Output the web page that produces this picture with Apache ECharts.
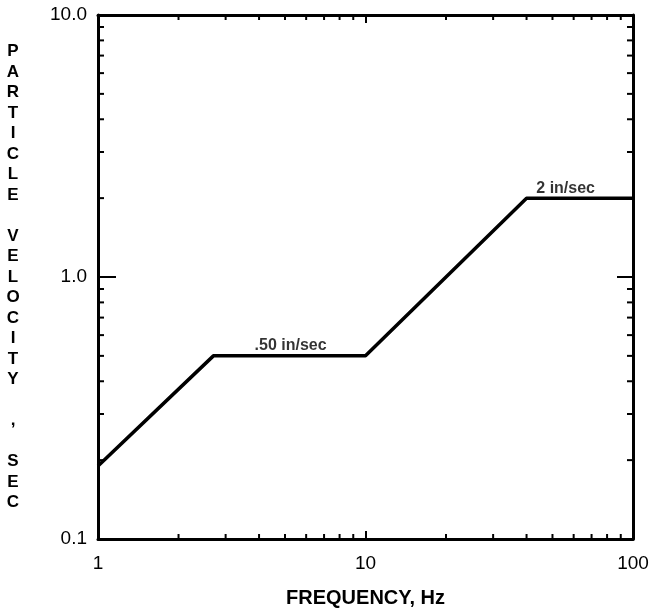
<!DOCTYPE html>
<html>
<head>
<meta charset="utf-8">
<script src="https://cdn.jsdelivr.net/npm/echarts@6/dist/echarts.min.js"></script>
<style>
html, body { margin: 0; padding: 0; background: #fff; }
#main { width: 654px; height: 613px; }
</style>
</head>
<body>
<div id="main"></div>
<script>
// criterion curve, frequency (Hz) vs particle velocity
var freq = [1, 2.7, 10, 40, 100]
var velocity = [0.19, 0.5, 0.5, 2, 2]

var curveLabels = [
  [5.25, 0.5, '.50 in/sec'],
  [56, 2, '2 in/sec']
]

var xMinor = [2, 3, 4, 5, 6, 7, 8, 9, 20, 30, 40, 50, 60, 70, 80, 90]
var yMinor = [0.2, 0.3, 0.4, 0.5, 0.6, 0.7, 0.8, 0.9, 2, 3, 4, 5, 6, 7, 8, 9]

var yTitle = 'PARTICLE VELOCITY , SEC'

var font = 'Liberation Sans, Arial, Helvetica, sans-serif'

var chart = echarts.init(document.getElementById('main'), null, { renderer: 'canvas' })

function axisBase(extra) {
  var a = {
    type: 'log',
    logBase: 10,
    axisLine: { show: true, lineStyle: { color: '#000', width: 3 } },
    axisTick: { show: true, inside: true, length: 8, lineStyle: { color: '#000', width: 2 } },
    splitLine: { show: false },
    minorTick: { show: false }
  }
  for (var k in extra) a[k] = extra[k]
  return a
}

function tickSeg(x1, y1, x2, y2) {
  return { type: 'line', shape: { x1: x1, y1: y1, x2: x2, y2: y2 }, style: { stroke: '#000', lineWidth: 2 } }
}

var option = {
  animation: false,
  backgroundColor: '#fff',
  grid: { left: 98, right: 21, top: 15, bottom: 70, containLabel: false },
  xAxis: [
    axisBase({
      position: 'bottom', min: 1, max: 100,
      axisLabel: { margin: 15, color: '#000', fontSize: 19, fontFamily: font,
        formatter: function (v) { return String(Math.round(v)) } },
      name: 'FREQUENCY, Hz', nameLocation: 'middle', nameGap: 49,
      nameTextStyle: { color: '#000', fontSize: 20, fontWeight: 'bold', fontFamily: font }
    }),
    axisBase({ position: 'top', min: 1, max: 100, axisLabel: { show: false } })
  ],
  yAxis: [
    axisBase({
      position: 'left', min: 0.1, max: 10,
      axisTick: { show: true, inside: true, length: 18, lineStyle: { color: '#000', width: 2 } },
      axisLabel: { margin: 11, color: '#000', fontSize: 19, fontFamily: font,
        formatter: function (v) { return v.toFixed(1) } },
      name: yTitle.split('').join('\n'), nameLocation: 'middle', nameRotate: 0, nameGap: 85,
      nameTextStyle: { color: '#000', fontSize: 17, fontWeight: 'bold', fontFamily: font,
        lineHeight: 20.5, align: 'center', padding: [16, 0, 0, 0] }
    }),
    axisBase({
      position: 'right', min: 0.1, max: 10,
      axisTick: { show: true, inside: true, length: 16, lineStyle: { color: '#000', width: 2 } },
      axisLabel: { show: false }
    })
  ],
  series: [
    {
      type: 'line',
      data: freq.map(function (f, i) { return [f, velocity[i]] }),
      showSymbol: false,
      lineStyle: { color: '#000', width: 3.5 },
      z: 5
    },
    {
      type: 'scatter',
      data: curveLabels,
      symbolSize: 0,
      label: {
        show: true, position: 'top', distance: 2, color: '#000',
        fontSize: 16, fontWeight: 'bold', fontFamily: font,
        formatter: function (p) { return p.value[2] }
      },
      z: 6
    },
    {
      type: 'custom',
      clip: false,
      data: xMinor.map(function (v) { return [v, 1] }),
      renderItem: function (params, api) {
        var v = api.value(0)
        var b = api.coord([v, 0.1])
        var t = api.coord([v, 10])
        return { type: 'group', children: [tickSeg(b[0], b[1], b[0], b[1] - 5), tickSeg(t[0], t[1], t[0], t[1] + 5)] }
      }
    },
    {
      type: 'custom',
      clip: false,
      data: yMinor.map(function (v) { return [10, v] }),
      renderItem: function (params, api) {
        var v = api.value(1)
        var l = api.coord([1, v])
        var r = api.coord([100, v])
        return { type: 'group', children: [tickSeg(l[0], l[1], l[0] + 6, l[1]), tickSeg(r[0], r[1], r[0] - 6, r[1])] }
      }
    }
  ]
}

chart.setOption(option)
</script>
</body>
</html>
